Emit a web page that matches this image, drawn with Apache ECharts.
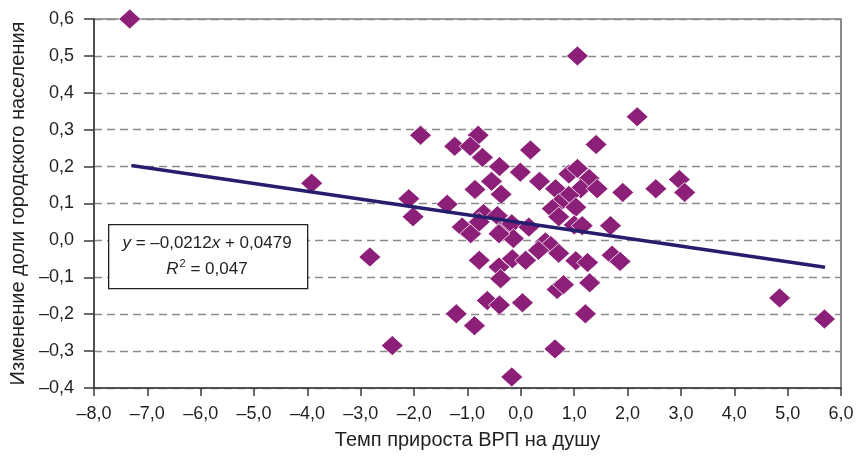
<!DOCTYPE html>
<html>
<head>
<meta charset="utf-8">
<script src="https://cdn.jsdelivr.net/npm/echarts@6/dist/echarts.min.js"></script>
<style>
html,body{margin:0;padding:0;background:#fff;}
#chart{width:858px;height:459px;}
</style>
</head>
<body>
<div id="chart"></div>
<script>
// Data
const gdpGrowth = [
  -7.33, 1.06, 2.18, 1.41, -1.88, -0.80, -1.24, -0.95, 0.18, -0.72,
  -0.40, -0.01, 0.35, -0.55, 0.90, 1.06, 1.28, -0.86, -0.37, 0.65,
  1.12, 1.43, 1.91, 2.53, 2.97, 3.07, 0.90, -2.10, -1.38, 0.71,
  1.03, 0.59, -2.02, -0.70, -0.44, 0.71, 1.00, 1.15, 1.68, -1.10,
  -0.94, -0.78, -0.38, -0.17, -0.14, 0.15, -0.41, 0.46, 0.56, 0.33,
  0.71, 1.03, 1.25, 1.71, 1.86, -0.78, -0.41, -0.16, 0.09, -0.38,
  1.29, 0.68, 0.80, -0.63, -0.40, 0.03, -1.21, 1.21, -0.87, -2.41,
  0.64, -0.17, -2.83, 4.85, 5.69, -3.92
];
const urbanShareChange = [
  0.600, 0.500, 0.335, 0.260, 0.285, 0.285, 0.255, 0.255, 0.245, 0.225,
  0.200, 0.185, 0.160, 0.160, 0.180, 0.195, 0.168, 0.138, 0.125, 0.140,
  0.140, 0.140, 0.130, 0.140, 0.165, 0.130, 0.122, 0.113, 0.098, 0.100,
  0.090, 0.086, 0.064, 0.073, 0.067, 0.064, 0.042, 0.040, 0.040, 0.036,
  0.018, 0.050, 0.025, 0.045, 0.005, 0.036, 0.018, -0.004, -0.014, -0.027,
  -0.035, -0.055, -0.060, -0.040, -0.057, -0.054, -0.072, -0.050, -0.054, -0.104,
  -0.115, -0.133, -0.120, -0.163, -0.175, -0.169, -0.199, -0.199, -0.231, -0.285,
  -0.294, -0.370, -0.045, -0.156, -0.213, 0.155
];
// Trend line endpoints (y = -0.0212x + 0.0479)
const trendX = [-7.3, 5.7];
const trendY = [0.2027, -0.0729];
const eqLine1 = ['y', ' = –0,0212', 'x', ' + 0,0479'];
const eqLine2 = ['R', '2', ' = 0,047'];
const xAxisTitle = 'Темп прироста ВРП на душу';
const yAxisTitle = 'Изменение доли городского населения';

const fmt = v => (Math.round(v * 10) / 10).toFixed(1).replace('.', ',').replace('-', '–');
const FONT = '"Liberation Sans", Arial, sans-serif';
const TXT = '#231F20';
const EQ = 17;

const chart = echarts.init(document.getElementById('chart'), null, {renderer: 'canvas'});
chart.setOption({
  animation: false,
  backgroundColor: '#fff',
  grid: {left: 93, right: 17, top: 19, bottom: 71, show: true, borderColor: '#3a3a3a', borderWidth: 1.2, backgroundColor: 'transparent'},
  xAxis: {
    type: 'value', min: -8, max: 6, interval: 1,
    name: xAxisTitle, nameLocation: 'middle', nameGap: 42,
    nameTextStyle: {fontFamily: FONT, fontSize: 20, color: TXT},
    axisLine: {show: true, onZero: false, lineStyle: {color: '#3a3a3a', width: 1.5}},
    axisTick: {show: true, inside: false, length: 8, lineStyle: {color: '#3a3a3a', width: 1.5}},
    axisLabel: {formatter: fmt, fontFamily: FONT, fontSize: 18, color: TXT, margin: 17},
    splitLine: {show: false}
  },
  yAxis: {
    type: 'value', min: -0.4, max: 0.6, interval: 0.1,
    name: yAxisTitle, nameLocation: 'middle', nameGap: 66, nameRotate: 90,
    nameTextStyle: {fontFamily: FONT, fontSize: 20, color: TXT},
    axisLine: {show: true, onZero: false, lineStyle: {color: '#3a3a3a', width: 1.5}},
    axisTick: {show: true, inside: false, length: 10, lineStyle: {color: '#3a3a3a', width: 1.5}},
    axisLabel: {formatter: fmt, fontFamily: FONT, fontSize: 18, color: TXT, margin: 20},
    splitLine: {show: true, lineStyle: {color: '#8a8a8a', width: 1.3, type: [8, 5]}}
  },
  series: [
    {
      type: 'scatter',
      data: gdpGrowth.map((x, i) => [x, urbanShareChange[i]]),
      symbol: 'diamond',
      symbolSize: [22, 20],
      itemStyle: {color: '#8C1F78', opacity: 1, borderColor: '#ffffff', borderWidth: 0.8},
      z: 3
    },
    {
      type: 'line',
      data: trendX.map((x, i) => [x, trendY[i]]),
      symbol: 'none',
      lineStyle: {color: '#261E6C', width: 3.5},
      z: 4
    }
  ],
  graphic: [
    {
      type: 'rect', left: 108, top: 224, z: 10,
      shape: {width: 199, height: 64},
      style: {fill: '#fff', stroke: '#231F20', lineWidth: 1.3}
    },
    {
      type: 'text', z: 11, x: 207, y: 243,
      style: {
        text: '{i|' + eqLine1[0] + '}{n|' + eqLine1[1] + '}{i|' + eqLine1[2] + '}{n|' + eqLine1[3] + '}',
        align: 'center', verticalAlign: 'middle',
        rich: {
          i: {fontFamily: FONT, fontSize: EQ, fontStyle: 'italic', fill: TXT},
          n: {fontFamily: FONT, fontSize: EQ, fill: TXT}
        }
      }
    },
    {
      type: 'text', z: 11, x: 207, y: 269,
      style: {
        text: '{i|' + eqLine2[0] + '}{s|' + eqLine2[1] + '}{n|' + eqLine2[2] + '}',
        align: 'center', verticalAlign: 'middle',
        rich: {
          i: {fontFamily: FONT, fontSize: EQ, fontStyle: 'italic', fill: TXT, lineHeight: 22},
          s: {fontFamily: FONT, fontSize: 11, fill: TXT, verticalAlign: 'top', lineHeight: 22, padding: [0, 0, 0, 1]},
          n: {fontFamily: FONT, fontSize: EQ, fill: TXT, lineHeight: 22}
        }
      }
    }
  ]
});
</script>
</body>
</html>
